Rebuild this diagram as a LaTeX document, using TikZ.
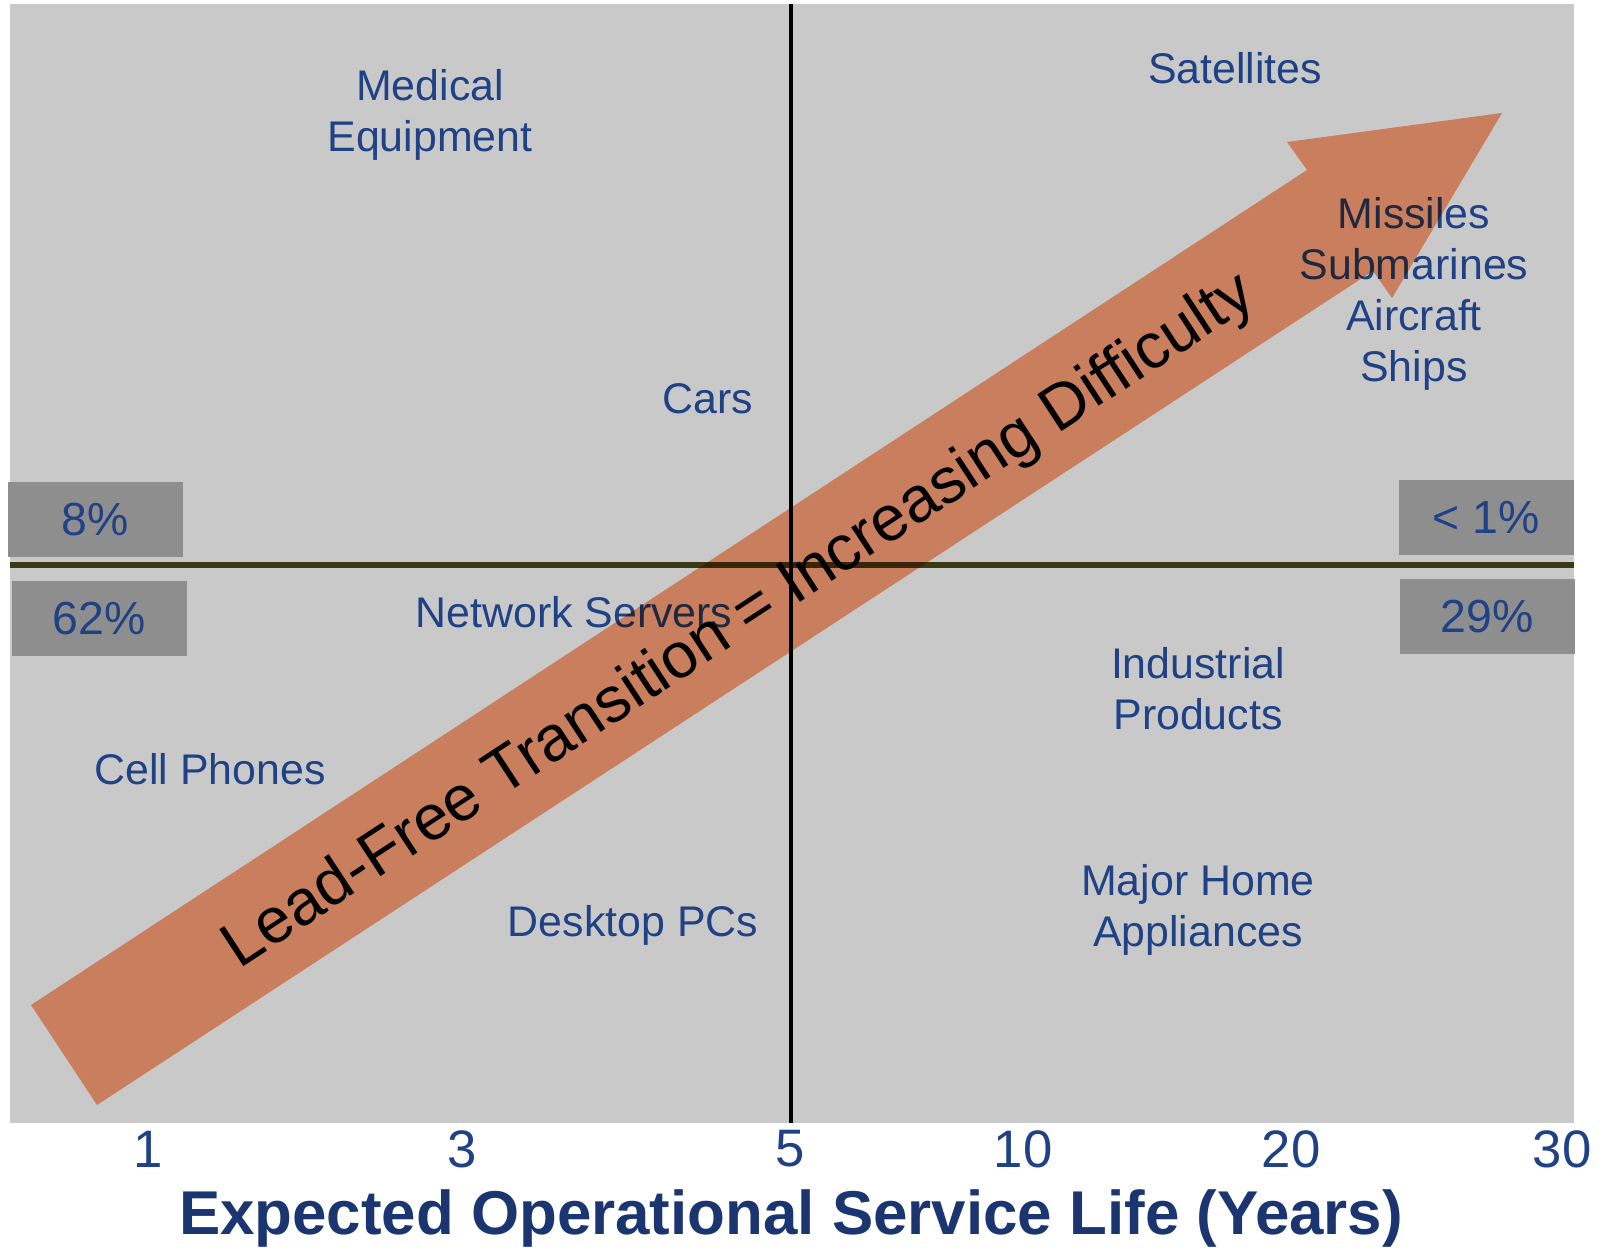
\documentclass[tikz,border=0pt]{standalone}
\usepackage{fontspec}
\setmainfont{Liberation Sans}
\usepackage{tikz}
\usetikzlibrary{calc, positioning}

\definecolor{chartgray}{HTML}{C9C9C9}
\definecolor{boxgray}{HTML}{8E8E8E}
\definecolor{labelblue}{HTML}{1F4186}
\definecolor{titlenavy}{HTML}{1B3570}
\definecolor{arrowsalmon}{HTML}{FFA078}
\definecolor{midline}{HTML}{3A3A14}

\begin{document}
\begin{tikzpicture}[x=0.1mm, y=-0.1mm,
    product/.style={text=labelblue, align=center, inner sep=1pt,
      font=\fontsize{12.2}{14.5}\selectfont},
    share/.style={fill=boxgray, text=labelblue, minimum width=17.5mm,
      minimum height=7.5mm, inner sep=0pt, font=\fontsize{13.2}{15}\selectfont},
    tick/.style={text=labelblue, inner sep=0pt, font=\fontsize{15}{17}\selectfont}]

      % --- Define Dimensions ---
      \def\chartL{10}
      \def\chartR{1574}
      \def\chartT{4}
      \def\chartB{1123}
      \def\midX{791}
      \def\midY{565}

      \useasboundingbox (0,0) rectangle (1604,1250);

      % --- Chart Background ---
      \fill[chartgray] (\chartL,\chartT) rectangle (\chartR,\chartB);

      % --- Share Boxes ---
      \node[share] (shareTL) at (95,520) {8\%};
      \node[share] (shareBL) at (99,619) {62\%};
      \node[share] (shareTR) at (1486,518) {< 1\%};
      \node[share] (shareBR) at (1487,617) {29\%};

      % --- Quadrant Lines ---
      \draw[midline, line width=0.6mm] (\chartL,\midY) -- (\chartR,\midY);
      \draw[black, line width=0.4mm] (\midX,\chartT) -- (\midX,\chartB);

      % --- Product Labels ---
      \node[product] (medical) at (430,115) {Medical\\Equipment};
      \node[product] (satellites) at (1235,68) {Satellites};
      \node[product] (defence) at (1414,294) {Missiles\\Submarines\\Aircraft\\Ships};
      \node[product] (cars) at (708,399) {Cars};
      \node[product] (servers) at (574,612) {Network Servers};
      \node[product] (phones) at (210,769) {Cell Phones};
      \node[product] (desktops) at (633,925) {Desktop PCs};
      \node[product] (industrial) at (1198,689) {Industrial\\Products};
      \node[product] (appliances) at (1198,910) {Major Home\\Appliances};

      % --- Difficulty Arrow (multiplied over the chart) ---
      \coordinate (tailA) at (31,1005);
      \coordinate (tailB) at (97,1105);
      \coordinate (neckA) at (1307,170);
      \coordinate (neckB) at (1373,271);
      \coordinate (barbA) at (1287,142);
      \coordinate (barbB) at (1392,298);
      \coordinate (tip) at (1502,113);
      \begin{scope}[blend mode=multiply]
        \fill[arrowsalmon] (tailA) -- (neckA) -- (barbA) -- (tip) -- (barbB)
          -- (neckB) -- (tailB) -- cycle;
      \end{scope}
      \node[rotate=33.2, inner sep=0pt, font=\fontsize{18.2}{20}\selectfont]
        (trend) at (740,622) {Lead-Free Transition = Increasing Difficulty};

      % --- Service Life Axis ---
      \foreach \val/\xpos in {1/148, 3/462, 5/790, 10/1023, 20/1291, 30/1562} {
        \node[tick] (tick\val) at (\xpos,1149) {\val};
      }
      \node[text=titlenavy, inner sep=0pt, font=\fontsize{17.6}{20}\selectfont\bfseries]
        (axis) at (791,1219) {Expected Operational Service Life (Years)};

    \end{tikzpicture}
\end{document}
